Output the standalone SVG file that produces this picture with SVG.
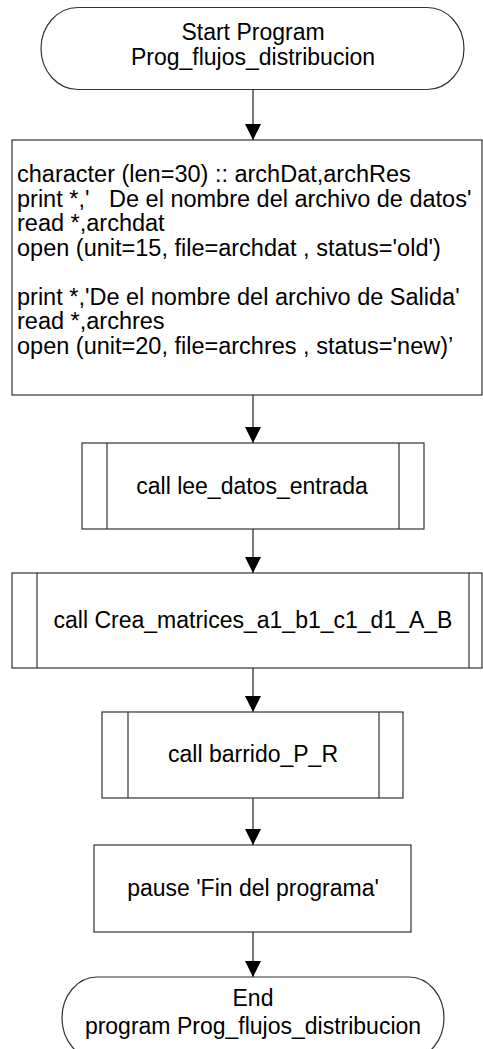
<svg xmlns="http://www.w3.org/2000/svg" width="483" height="1049" viewBox="0 0 483 1049">
<style>
.s{fill:#fff;stroke:#333;stroke-width:1.2}
.l{fill:none;stroke:#333;stroke-width:1.2}
.c{fill:none;stroke:#7a7a7a;stroke-width:2}
.t{font-family:"Liberation Sans",Arial,sans-serif;font-size:23px;fill:#000}
.b{font-size:23.5px}
.m{text-anchor:middle}
</style>
<defs>
<marker id="ah" markerUnits="userSpaceOnUse" markerWidth="16" markerHeight="16" refX="16" refY="8" orient="auto">
<path d="M0,0 L16,8 L0,16 Z" fill="#000"/>
</marker>
</defs>
<rect width="483" height="1049" fill="#fff"/>
<g id="connectors">
<line class="c" x1="253" y1="90" x2="253" y2="140" marker-end="url(#ah)"/>
<line class="c" x1="253" y1="395" x2="253" y2="443" marker-end="url(#ah)"/>
<line class="c" x1="253" y1="529" x2="253" y2="573" marker-end="url(#ah)"/>
<line class="c" x1="253" y1="668" x2="253" y2="712" marker-end="url(#ah)"/>
<line class="c" x1="253" y1="798" x2="253" y2="845" marker-end="url(#ah)"/>
<line class="c" x1="253" y1="932" x2="253" y2="977" marker-end="url(#ah)"/>
</g>
<g id="start">
<path class="s" d="M78,7.5 H427 A37,41 0 0 1 427,89.5 H78 A37,41 0 0 1 78,7.5 Z"/>
<text class="t m" x="253" y="40">Start Program</text>
<text class="t m" x="253" y="65">Prog_flujos_distribucion</text>
</g>
<g id="init">
<rect class="s" x="12" y="140" width="470" height="255"/>
<text class="t b" x="17" y="182">character (len=30) :: archDat,archRes</text>
<text class="t b" x="17" y="206.5" xml:space="preserve">print *,'   De el nombre del archivo de datos'</text>
<text class="t b" x="17" y="231">read *,archdat</text>
<text class="t b" x="17" y="255.5">open (unit=15, file=archdat , status='old')</text>
<text class="t b" x="17" y="304.5">print *,'De el nombre del archivo de Salida'</text>
<text class="t b" x="17" y="329">read *,archres</text>
<text class="t b" x="17" y="353.5">open (unit=20, file=archres , status='new)’</text>
</g>
<g id="call1">
<rect class="s" x="82" y="443" width="342" height="86"/>
<line class="l" x1="107" y1="443" x2="107" y2="529"/>
<line class="l" x1="399" y1="443" x2="399" y2="529"/>
<text class="t m" x="252" y="494">call lee_datos_entrada</text>
</g>
<g id="call2">
<rect class="s" x="12" y="573" width="470" height="95"/>
<line class="l" x1="37" y1="573" x2="37" y2="668"/>
<line class="l" x1="469" y1="573" x2="469" y2="668"/>
<text class="t m" x="253" y="628">call Crea_matrices_a1_b1_c1_d1_A_B</text>
</g>
<g id="call3">
<rect class="s" x="102" y="712" width="301" height="86"/>
<line class="l" x1="128" y1="712" x2="128" y2="798"/>
<line class="l" x1="379" y1="712" x2="379" y2="798"/>
<text class="t m" x="253" y="762">call barrido_P_R</text>
</g>
<g id="pause">
<rect class="s" x="94" y="845" width="317" height="87"/>
<text class="t m" x="253" y="896">pause 'Fin del programa'</text>
</g>
<g id="end">
<path class="s" d="M97,977 H409 A35,41 0 0 1 409,1059 H97 A35,41 0 0 1 97,977 Z"/>
<text class="t m" x="253" y="1006">End</text>
<text class="t m" x="253" y="1034">program Prog_flujos_distribucion</text>
</g>
</svg>
